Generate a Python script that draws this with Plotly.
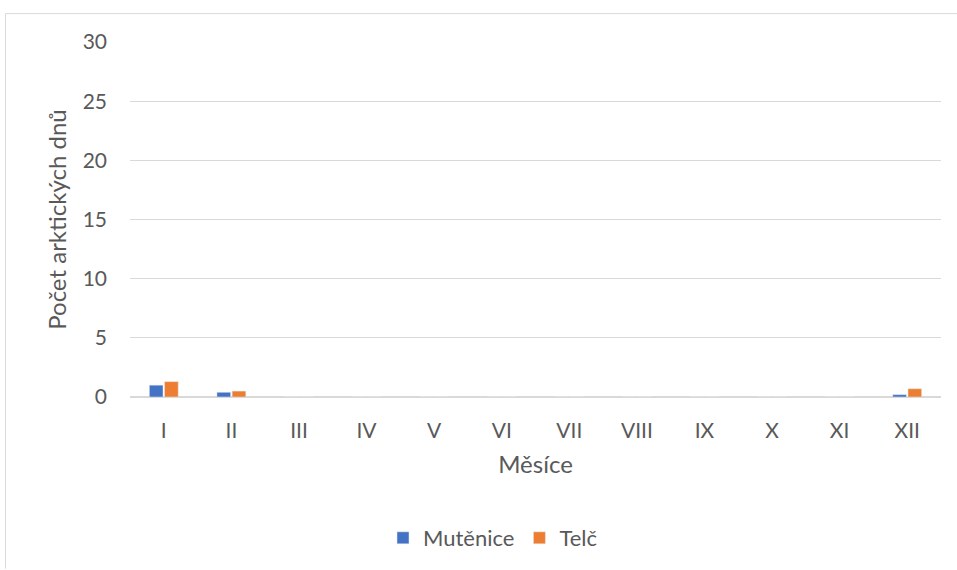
import plotly.graph_objects as go

months = ["I", "II", "III", "IV", "V", "VI", "VII", "VIII", "IX", "X", "XI", "XII"]
mutenice = [1.0, 0.4, 0, 0, 0, 0, 0, 0, 0, 0, 0, 0.2]
telc = [1.3, 0.5, 0, 0, 0, 0, 0, 0, 0, 0, 0, 0.7]
y_ticks = [0, 5, 10, 15, 20, 25, 30]

W, H = 957, 570
L, R, T, B = 130, 941, 42, 398

fig = go.Figure()
fig.add_trace(go.Bar(name="Mutěnice", x=months, y=mutenice, marker_color="#4472C4"))
fig.add_trace(go.Bar(name="Telč", x=months, y=telc, marker_color="#ED7D31"))

def px_x(p):
    return (p - L) / (R - L)

def px_y(p):
    return (B - p) / (B - T)

# outer chart frame (left and top edges)
frame = dict(color="#d9d9d9", width=1)
fig.add_shape(type="line", xref="paper", yref="paper", x0=px_x(5.5), x1=px_x(957),
              y0=px_y(13.5), y1=px_y(13.5), line=frame)
fig.add_shape(type="line", xref="paper", yref="paper", x0=px_x(5.5), x1=px_x(5.5),
              y0=px_y(13.5), y1=px_y(570), line=frame)

font_color = "#595959"
fig.update_layout(
    width=W, height=H,
    margin=dict(l=L, r=W - R, t=T, b=H - B),
    plot_bgcolor="white", paper_bgcolor="white",
    barmode="group", bargap=0.55, bargroupgap=0.1,
    font=dict(family="Lato, Open Sans, sans-serif", size=22, color=font_color),
    xaxis=dict(
        title=dict(text="Měsíce", font=dict(size=24), standoff=14),
        showgrid=False, showline=True, linecolor="#d9d9d9", ticks="",
        tickfont=dict(size=21), ticklabelstandoff=15,
    ),
    yaxis=dict(
        title=dict(text="Počet arktických dnů", font=dict(size=24), standoff=9),
        range=[0, 30], tickvals=y_ticks, showgrid=True, gridcolor="#d9d9d9",
        zeroline=True, zerolinecolor="#d9d9d9", showline=False, ticks="",
        tickfont=dict(size=21), ticklabelstandoff=22,
    ),
    legend=dict(orientation="h", x=px_x(493), xanchor="center", y=px_y(538), yanchor="middle",
                font=dict(size=22), itemwidth=30, traceorder="normal"),
)

fig.write_html("out.html")
